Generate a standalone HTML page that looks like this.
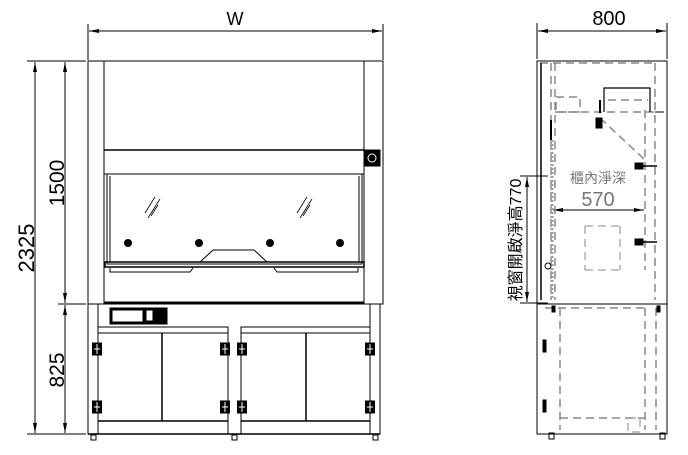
<!DOCTYPE html>
<html><head><meta charset="utf-8"><style>html,body{margin:0;padding:0;background:#fff}svg{display:block}</style></head>
<body>
<svg width="688" height="455" viewBox="0 0 688 455" xmlns="http://www.w3.org/2000/svg" font-family="Liberation Sans, Noto Sans CJK TC, sans-serif">
<defs>
<marker id="a" viewBox="0 0 10 4" refX="10" refY="2" markerWidth="10" markerHeight="4" orient="auto-start-reverse" markerUnits="userSpaceOnUse"><path d="M0,0L10,2L0,4z" fill="#000"/></marker>
<g id="h"><rect x="-4.5" y="-6" width="9" height="12" fill="#000"/><line x1="-3" y1="0" x2="3" y2="0" stroke="#fff"/><line x1="0" y1="-5" x2="0" y2="5" stroke="#fff"/></g>
</defs>
<g stroke="#000" stroke-width="1" fill="none">
<line x1="88" y1="24" x2="88" y2="60"/><line x1="383" y1="24" x2="383" y2="60"/>
<line x1="89" y1="31" x2="382" y2="31" marker-start="url(#a)" marker-end="url(#a)"/>
<line x1="27" y1="61" x2="86" y2="61"/><line x1="27" y1="434" x2="86" y2="434"/><line x1="58" y1="304" x2="86" y2="304"/>
<line x1="35" y1="62" x2="35" y2="433" marker-start="url(#a)" marker-end="url(#a)"/>
<line x1="65" y1="62" x2="65" y2="303" marker-start="url(#a)" marker-end="url(#a)"/>
<line x1="65" y1="305" x2="65" y2="433" marker-start="url(#a)" marker-end="url(#a)"/>
<rect x="88" y="61" width="295" height="243"/>
<line x1="104" y1="61" x2="104" y2="304"/><line x1="364" y1="61" x2="364" y2="304"/>
<line x1="104" y1="150" x2="364" y2="150" stroke-width="1.5"/>
<line x1="104" y1="174" x2="364" y2="174"/>
<rect x="107" y="174" width="255" height="90"/>
<line x1="110" y1="176" x2="110" y2="262"/><line x1="359" y1="176" x2="359" y2="262"/>
<path d="M200,262 L213,250 L254,250 L267,262"/>
<rect x="105" y="262" width="259" height="5" stroke-width="1.5"/>
<path d="M110,268 L110,272 L190,272 L193,268 M274,268 L277,272 L358,272 L358,268"/>
<line x1="104" y1="303" x2="364" y2="303" stroke-width="3"/>
<path d="M145,213 L155,197 M148,218 L160,199 M151,216 L158,205" stroke-width="0.8"/>
<path d="M297,213 L307,197 M300,218 L312,199 M303,216 L310,205" stroke-width="0.8"/>
<rect x="365" y="150" width="15" height="16" fill="#000"/>
<circle cx="372" cy="158" r="4" stroke="#fff"/>
<g fill="#000" stroke="none"><circle cx="128" cy="243" r="4"/><circle cx="199" cy="243" r="4"/><circle cx="270" cy="243" r="4"/><circle cx="340" cy="243" r="4"/></g>
<rect x="88" y="304" width="292" height="130"/>
<line x1="98" y1="304" x2="98" y2="434"/><line x1="370" y1="304" x2="370" y2="434"/>
<rect x="98" y="327" width="130" height="107"/><rect x="241" y="327" width="129" height="107"/>
<line x1="98" y1="333" x2="228" y2="333"/><line x1="241" y1="333" x2="370" y2="333"/>
<line x1="98" y1="421" x2="228" y2="421" stroke-width="1.5"/><line x1="241" y1="421" x2="370" y2="421" stroke-width="1.5"/>
<line x1="162" y1="333" x2="162" y2="421" stroke-width="1.5"/><line x1="306" y1="333" x2="306" y2="421" stroke-width="1.5"/>
<line x1="88" y1="434" x2="380" y2="434" stroke-width="1.5"/>
<rect x="110" y="308" width="57" height="16" fill="#000"/>
<rect x="112" y="310" width="31" height="12" fill="#fff"/>
<rect x="146" y="310" width="7" height="11" fill="#fff"/>
<use href="#h" x="97" y="349"/><use href="#h" x="97" y="407"/>
<use href="#h" x="225" y="349"/><use href="#h" x="225" y="407"/>
<use href="#h" x="242" y="349"/><use href="#h" x="242" y="407"/>
<use href="#h" x="370" y="349"/><use href="#h" x="370" y="407"/>
<rect x="91" y="435" width="5" height="5"/><rect x="232" y="435" width="5" height="5"/><rect x="373" y="435" width="5" height="5"/>
<line x1="537" y1="23" x2="537" y2="59"/><line x1="667" y1="23" x2="667" y2="59"/>
<line x1="538" y1="31" x2="666" y2="31" marker-start="url(#a)" marker-end="url(#a)"/>
<rect x="537" y="61" width="130" height="373"/>
<line x1="537" y1="304" x2="667" y2="304"/>
<line x1="548" y1="176" x2="520" y2="176"/><line x1="548" y1="303" x2="520" y2="303"/>
<line x1="527" y1="177" x2="527" y2="302" marker-start="url(#a)" marker-end="url(#a)"/>
<line x1="553" y1="210" x2="644" y2="210" marker-start="url(#a)" marker-end="url(#a)"/>
<g stroke="#888" stroke-width="1.5" stroke-dasharray="8,5">
<line x1="551" y1="63" x2="551" y2="300"/><line x1="555" y1="63" x2="555" y2="300"/>
<line x1="655" y1="63" x2="655" y2="300"/><line x1="645" y1="110" x2="645" y2="270"/>
<line x1="540" y1="63" x2="655" y2="63"/><line x1="555" y1="112" x2="655" y2="112"/>
<rect x="556" y="97" width="24" height="15"/>
<line x1="585" y1="226" x2="620" y2="226" stroke-width="1"/><line x1="585" y1="270" x2="620" y2="270" stroke-width="1"/>
<line x1="585" y1="226" x2="585" y2="270" stroke-width="1"/><line x1="620" y1="226" x2="620" y2="270" stroke-width="1"/>
<line x1="600" y1="118" x2="645" y2="160"/>
<line x1="545" y1="308" x2="645" y2="308"/><line x1="645" y1="308" x2="645" y2="430"/>
<line x1="560" y1="308" x2="560" y2="430"/><line x1="656" y1="308" x2="656" y2="430"/>
<line x1="560" y1="418" x2="645" y2="418"/><rect x="628" y="418" width="12" height="14" stroke-width="1"/>
</g>
<path d="M604,112 L604,88 L650,88 L650,112" stroke="#000" stroke-width="1.2"/>
<line x1="608" y1="100" x2="648" y2="100" stroke="#888" stroke-width="1.5" stroke-dasharray="8,5"/>
<line x1="552" y1="140" x2="552" y2="300" stroke="#999" stroke-width="3" stroke-dasharray="2,2"/>
<line x1="541" y1="63" x2="541" y2="300" stroke-width="1.5"/>
<line x1="551" y1="120" x2="551" y2="140" stroke-width="2"/>
<line x1="600" y1="113" x2="600" y2="100" stroke-width="2"/>
<line x1="655" y1="112" x2="664" y2="112"/>
<rect x="596" y="118" width="6" height="10" fill="#000"/>
<rect x="635" y="163" width="8" height="6" fill="#000"/><line x1="643" y1="166" x2="657" y2="166" stroke-width="1.5"/>
<rect x="635" y="239" width="8" height="6" fill="#000"/><line x1="643" y1="242" x2="657" y2="242" stroke-width="1.5"/>
<circle cx="548" cy="266" r="3"/>
<rect x="543" y="340" width="3" height="12" fill="#000"/><rect x="543" y="400" width="3" height="12" fill="#000"/>
<rect x="552" y="306" width="3" height="6" fill="#000"/><rect x="657" y="306" width="3" height="6" fill="#000"/>
<rect x="549" y="433" width="5" height="6"/><rect x="660" y="433" width="5" height="6"/>
</g>
<g fill="#000">
<text x="235" y="25" text-anchor="middle" font-size="18">W</text>
<text x="609" y="25" text-anchor="middle" font-size="20">800</text>
<text transform="translate(34,248) rotate(-90)" text-anchor="middle" font-size="22">2325</text>
<text transform="translate(64,183) rotate(-90)" text-anchor="middle" font-size="21">1500</text>
<text transform="translate(64,370) rotate(-90)" text-anchor="middle" font-size="21">825</text>
<text x="598" y="183" text-anchor="middle" font-size="14" fill="#777">櫃內淨深</text>
<text x="598" y="206" text-anchor="middle" font-size="20" fill="#777">570</text>
<text transform="translate(521,240) rotate(-90)" text-anchor="middle" font-size="16">視窗開啟淨高770</text>
</g>
</svg>
</body></html>
